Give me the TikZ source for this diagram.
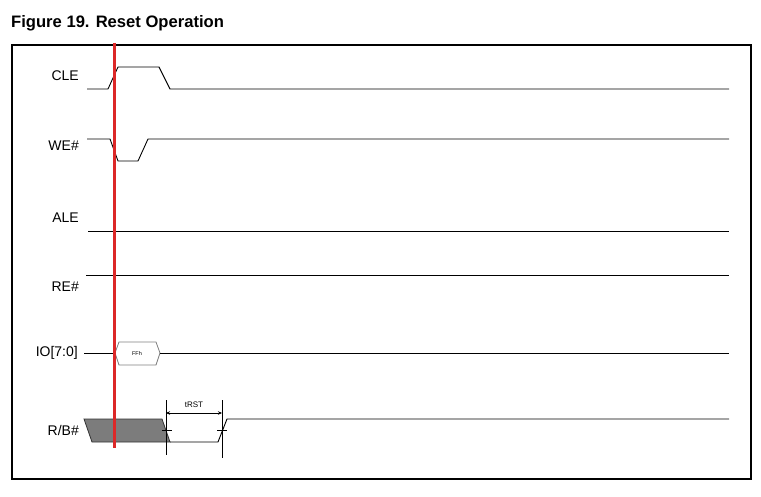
\documentclass[tikz,border=0pt]{standalone}
\usepackage{fontspec}
\setmainfont{Liberation Sans}
\usetikzlibrary{arrows.meta}
\definecolor{redline}{HTML}{DC2828}
\definecolor{busfill}{HTML}{7C7C7C}
\begin{document}
\begin{tikzpicture}[x=1pt,y=-1pt,
  sig/.style={line width=0.9pt, black},
  lbl/.style={anchor=east, inner sep=0pt, font=\fontsize{14}{14}\selectfont},
  dim/.style={line width=0.7pt}]
\useasboundingbox (0,0) rectangle (761,497);
\fill[white] (0,0) rectangle (761,497);
% title
\node[anchor=west, inner sep=0pt, font=\fontsize{16.6}{17}\selectfont\bfseries] (title) at (11,23) {Figure 19. Reset Operation};
% frame
\draw[line width=1.2pt] (12,45) rectangle (751,479);
% labels
\node[lbl] (cle) at (79,76) {CLE};
\node[lbl] (we) at (79,146) {WE\#};
\node[lbl] (ale) at (79,218) {ALE};
\node[lbl] (re) at (79,287) {RE\#};
\node[lbl] (io) at (78,353) {IO[7:0]};
\node[lbl] (rb) at (79,430) {R/B\#};
% CLE
\draw[sig] (87,89) -- (108,89) -- (118,67) -- (159,67) -- (170,89) -- (729,89);
% WE#
\draw[sig] (87,139) -- (110,139) -- (118,161) -- (138,161) -- (148,139) -- (729,139);
% ALE
\draw[sig] (88,231) -- (729,231);
% RE#
\draw[sig] (86,275) -- (729,275);
% IO
\draw[sig] (84,353) -- (115,353);
\draw[line width=0.8pt, gray] (115,353) -- (119,342) -- (156,342) -- (160,353) -- (156,365) -- (119,365) -- cycle;
\node[inner sep=0pt, font=\fontsize{5.5}{6}\selectfont] (ffh) at (137,354) {FFh};
\draw[sig] (160,353) -- (729,353);
% R/B#
\filldraw[fill=busfill, draw=black!80, line width=0.8pt] (84,419) -- (162,419) -- (170,442) -- (92,442) -- cycle;
\draw[sig] (170,442) -- (218,442) -- (227,419) -- (729,419);
% tRST dimension
\coordinate (d1t) at (166,400);
\coordinate (d1b) at (166,455);
\coordinate (d2t) at (222,400);
\coordinate (d2b) at (222,458);
\draw[dim] (d1t) -- (d1b);
\draw[dim] (d2t) -- (d2b);
\draw[dim] (162,430) -- (172,430);
\draw[dim] (217,430) -- (227,430);
\coordinate (a1) at (166,413);
\coordinate (a2) at (222,413);
\draw[dim, {Stealth[length=4pt,width=3.5pt]}-{Stealth[length=4pt,width=3.5pt]}] (a1) -- (a2);
\node[inner sep=0pt, font=\fontsize{8}{8}\selectfont] (trst) at (194,405) {tRST};
% red marker
\draw[redline, line width=3pt] (114.5,43) -- (114.5,448);
\end{tikzpicture}
\end{document}
